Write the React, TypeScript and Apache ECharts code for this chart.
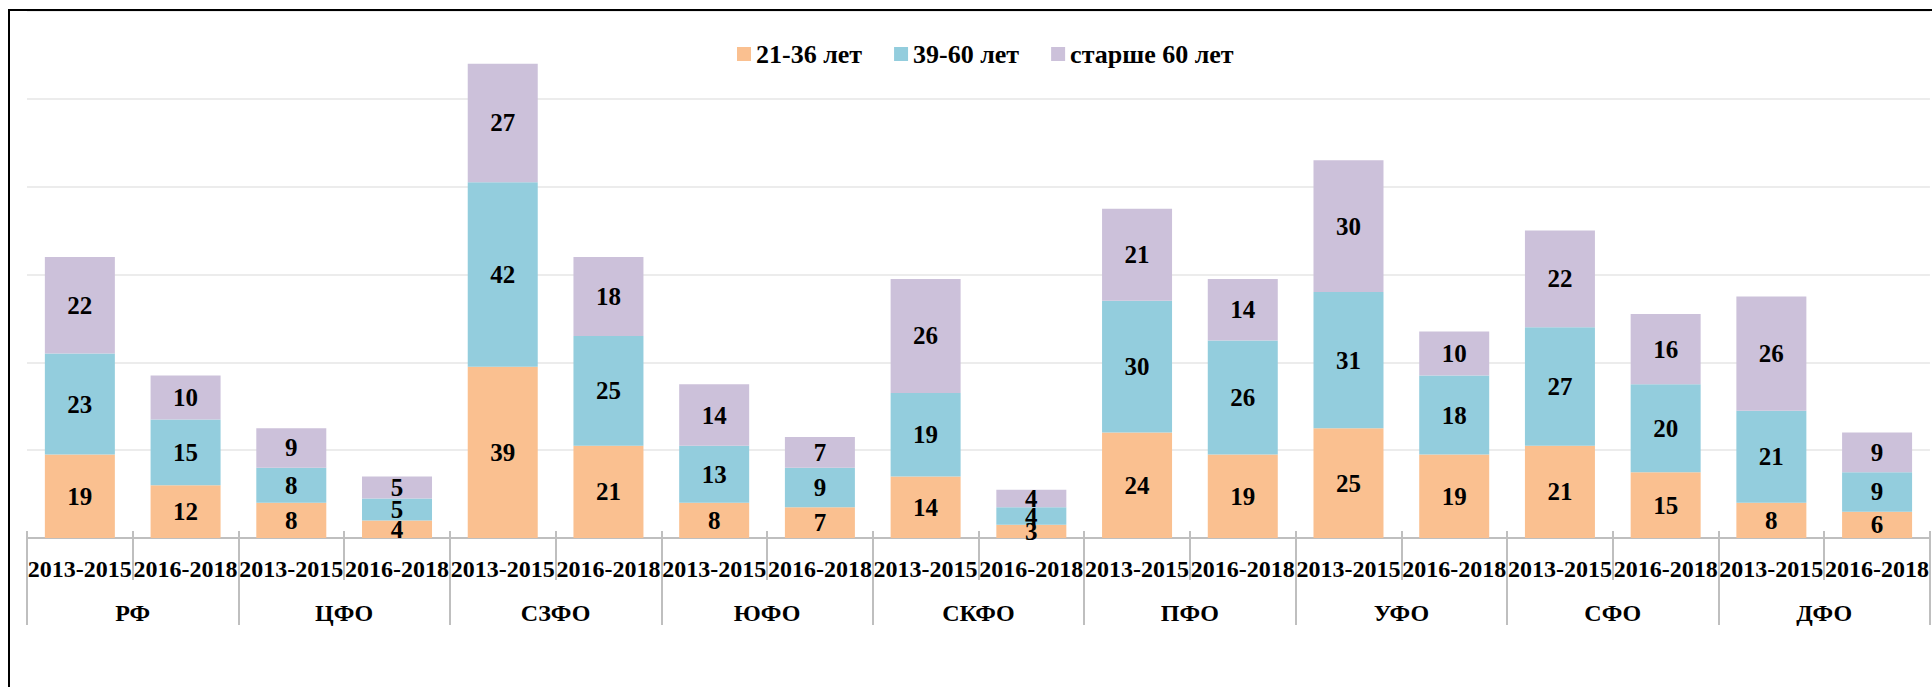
import React, { useEffect, useRef } from "react";
import * as echarts from "echarts";

const periods = [
  "2013-2015", "2016-2018", "2013-2015", "2016-2018", "2013-2015", "2016-2018",
  "2013-2015", "2016-2018", "2013-2015", "2016-2018", "2013-2015", "2016-2018",
  "2013-2015", "2016-2018", "2013-2015", "2016-2018", "2013-2015", "2016-2018",
];
const regions = ["РФ", "ЦФО", "СЗФО", "ЮФО", "СКФО", "ПФО", "УФО", "СФО", "ДФО"];

const age21_36 = [19, 12, 8, 4, 39, 21, 8, 7, 14, 3, 24, 19, 25, 19, 21, 15, 8, 6];
const age39_60 = [23, 15, 8, 5, 42, 25, 13, 9, 19, 4, 30, 26, 31, 18, 27, 20, 21, 9];
const age60plus = [22, 10, 9, 5, 27, 18, 14, 7, 26, 4, 21, 14, 30, 10, 22, 16, 26, 9];

const seriesNames = ["21-36 лет", "39-60 лет", "старше 60 лет"];
const colors = ["#FAC090", "#93CDDD", "#CCC1DA"];

const FONT = "'Liberation Serif', 'Times New Roman', serif";

export default function App() {
  const ref = useRef<HTMLDivElement>(null);

  useEffect(() => {
    if (!ref.current) return;
    const chart = echarts.init(ref.current, undefined, { renderer: "svg" });
    const labelStyle = {
      show: true,
      position: "inside" as const,
      color: "#000",
      fontFamily: FONT,
      fontWeight: "bold" as const,
      fontSize: 25,
    };
    const datasets = [age21_36, age39_60, age60plus];
    chart.setOption({
      animation: false,
      backgroundColor: "#fff",
      color: colors,
      legend: {
        left: 732,
        top: 36,
        itemWidth: 14,
        itemHeight: 14,
        itemGap: 32,
        icon: "rect",
        textStyle: { fontFamily: FONT, fontWeight: "bold", fontSize: 26, color: "#000" },
        data: seriesNames,
      },
      grid: { left: 27, width: 1906, top: 11, bottom: 149, containLabel: false },
      xAxis: [
        {
          type: "category",
          data: periods,
          position: "bottom",
          axisLine: { show: true, lineStyle: { color: "#BFBFBF", width: 2 } },
          axisTick: { show: true, interval: 0, length: 42, lineStyle: { color: "#BFBFBF", width: 2 } },
          axisLabel: {
            interval: 0,
            margin: 19,
            color: "#000",
            fontFamily: FONT,
            fontWeight: "bold",
            fontSize: 24,
          },
          splitLine: { show: false },
        },
        {
          type: "category",
          data: regions,
          position: "bottom",
          axisLine: { show: false },
          axisTick: { show: true, interval: 0, length: 87, lineStyle: { color: "#BFBFBF", width: 2 } },
          axisLabel: {
            interval: 0,
            margin: 63,
            color: "#000",
            fontFamily: FONT,
            fontWeight: "bold",
            fontSize: 24,
          },
          splitLine: { show: false },
        },
        {
          type: "category",
          data: periods,
          position: "bottom",
          axisLine: { show: false },
          axisTick: { show: true, inside: true, interval: 0, length: 7, lineStyle: { color: "#BFBFBF", width: 2 } },
          axisLabel: { show: false },
          splitLine: { show: false },
        },
      ],
      yAxis: {
        type: "value",
        min: 0,
        max: 120,
        interval: 20,
        axisLabel: { show: false },
        axisLine: { show: false },
        axisTick: { show: false },
        splitLine: { show: true, lineStyle: { color: "#E6E6E6", width: 1.5 } },
      },
      series: seriesNames.map((name, i) => ({
        name,
        type: "bar",
        stack: "total",
        xAxisIndex: 0,
        barWidth: 70,
        data: datasets[i],
        itemStyle: { color: colors[i] },
        label: labelStyle,
      })),
    });
    return () => chart.dispose();
  }, []);

  return (
    <div
      style={{
        position: "fixed",
        left: 0,
        top: 0,
        width: 1932,
        height: 687,
        overflow: "hidden",
        background: "#fff",
      }}
    >
      <div ref={ref} style={{ position: "absolute", left: 0, top: 0, width: 1932, height: 687 }} />
      <div
        style={{
          position: "absolute",
          left: 8,
          top: 9,
          width: 2000,
          height: 2000,
          borderLeft: "2px solid #000",
          borderTop: "2px solid #000",
          pointerEvents: "none",
        }}
      />
    </div>
  );
}
